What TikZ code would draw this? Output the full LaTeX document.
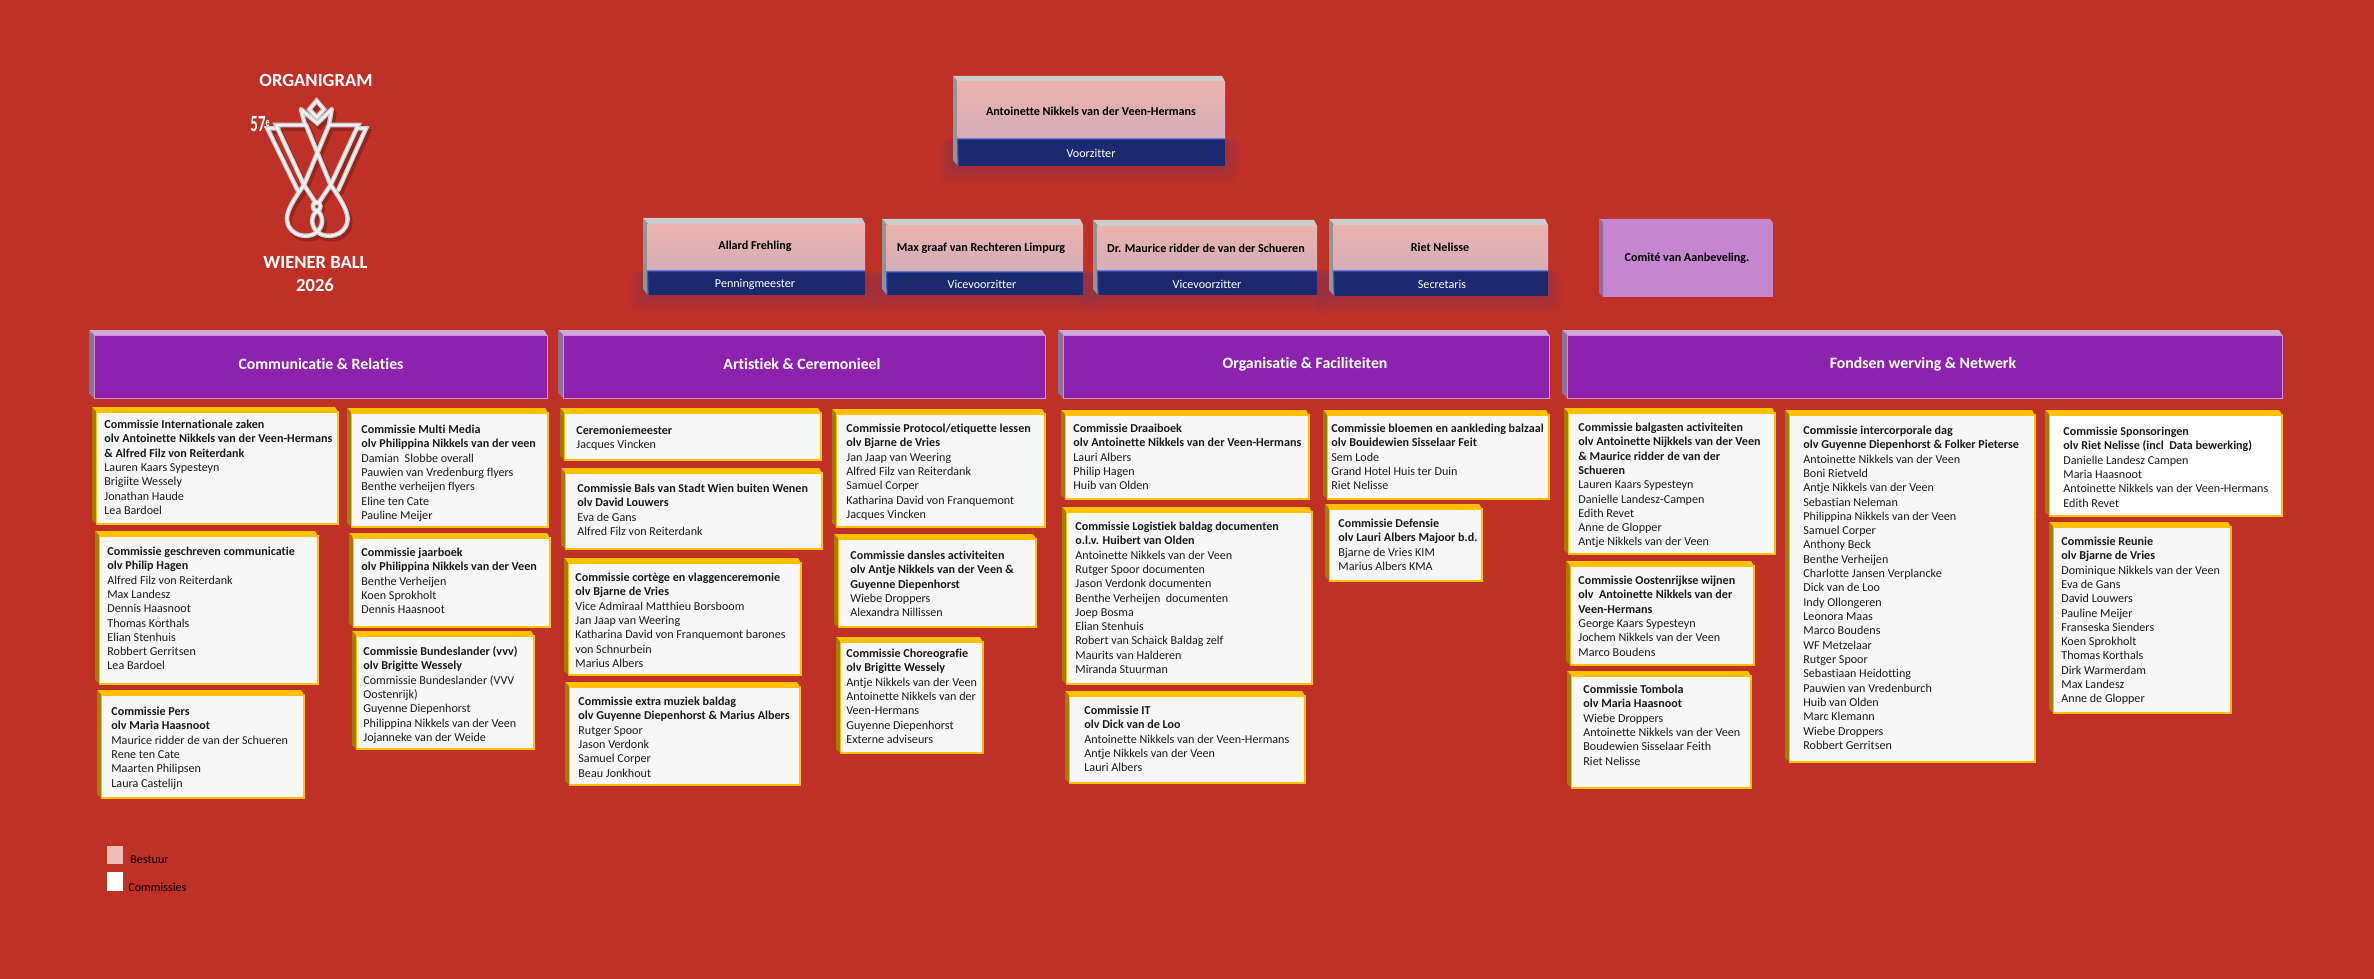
\documentclass[tikz,border=0pt]{standalone}
\usepackage{fontspec}
\setmainfont[Ligatures=NoCommon]{Carlito}
\definecolor{bgred}{HTML}{BF3027}
\definecolor{yeltop}{HTML}{FFC000}
\definecolor{yelleft}{HTML}{A67C00}
\definecolor{facegrey}{HTML}{F7F7F7}
\definecolor{purp}{HTML}{8C22AE}
\definecolor{purptop}{HTML}{D2A6D9}
\definecolor{purpleft}{HTML}{8F7196}
\definecolor{purpline}{HTML}{C896D8}
\definecolor{pinkA}{HTML}{EBB3AE}
\definecolor{pinkB}{HTML}{D4ACB9}
\definecolor{navy}{HTML}{1B2A6E}
\definecolor{navyedge}{HTML}{3A5BD0}
\definecolor{comite}{HTML}{C585D0}
\definecolor{comleft}{HTML}{8F6BA0}
\definecolor{inktext}{HTML}{1A1A1A}
\definecolor{shadowc}{HTML}{3A3A8A}
\tikzset{
  x=0.5pt,y=-0.5pt,
  comface/.style={fill=facegrey,draw=yeltop,line width=0.6pt},
  comwhite/.style={fill=white,draw=yeltop,line width=0.6pt},
  comtxt/.style={anchor=north west,inner sep=0pt,align=left,text=inktext,font=\fontsize{6.05}{7.16}\selectfont},
  headtxt/.style={inner sep=0pt,text=white,font=\fontsize{7.9}{9.5}\selectfont\bfseries},
  nametxt/.style={inner sep=0pt,text=black,font=\fontsize{6.05}{7}\selectfont\bfseries},
  roletxt/.style={inner sep=0pt,text=white,font=\fontsize{6.05}{7}\selectfont},
  logotxt/.style={inner sep=0pt,text=white,font=\fontsize{9.3}{11}\selectfont\bfseries},
  legtxt/.style={anchor=west,inner sep=0pt,text=black,font=\fontsize{6.05}{7}\selectfont},
}
% commission box: [face style]{name}{left}{top}{right}{bottom}{text x}{first line y}{text}
\newcommand\cbox[9][comface]{%
  \fill[yeltop] (#3,#4)--(#5-3,#4)--(#5,#4+5)--(#3+4.5,#4+5)--cycle;
  \fill[yelleft] (#3,#4)--(#3+4.5,#4+5)--(#3+4.5,#6)--(#3,#6-4)--cycle;
  \draw[#1] (#3+4.5,#4+5) rectangle (#5,#6);
  \node[comtxt] (#2) at (#7,#8-5) {\rule{0pt}{5pt}#9};
}
\newcommand\hd[1]{\textbf{#1}}
% section header: {name}{left}{right}{text x}{text}
\newcommand\sect[5]{%
  \fill[purptop] (#2,330)--(#3-3,330)--(#3,335)--(#2+5,335)--cycle;
  \fill[purpleft] (#2,330)--(#2+5,335)--(#2+5,398)--(#2,393)--cycle;
  \draw[fill=purp,draw=purpline,line width=0.5pt] (#2+5,335) rectangle (#3,398);
  \node[headtxt] (#1) at (#4,364) {#5};
}
% board box: {left}{top}{navy top}{right}{bottom}
\newcommand\board[5]{%
  \foreach \e in {3,6,...,18}{\fill[shadowc,opacity=0.035,rounded corners=4pt] (#1-\e*0.8,#3) rectangle (#4+\e*0.8,#5+\e);}
  \fill[black!20] (#1,#2)--(#4-3,#2)--(#4,#2+6)--(#1+5,#2+6)--cycle;
  \fill[black!42] (#1,#2)--(#1+5,#2+6)--(#1+5,#5)--(#1,#5-6)--cycle;
  \shade[top color=pinkA,middle color=pinkA,bottom color=pinkB] (#1+4,#2+6) rectangle (#4,#3);
  \fill[navy] (#1+5,#3) rectangle (#4,#5);
  \draw[navyedge,line width=0.6pt] (#1+5,#5)--(#1+4.5,#3)--(#4,#3);
}
\newcommand\logopath[1]{%
  \draw[#1,line join=miter,line cap=round]
    (260,32)--(282,58)--(260,82)--(238,58)--cycle
    (213,58)--(262,100)--(305,58)
    (213,58)--(225,105)--(138,105)--(222,285)--(258,340)
    (305,58)--(297,105)--(385,105)--(302,285)--(265,340)
    (145,115)--(112,115)--(205,305)
    (380,115)--(408,115)--(325,300)
    (228,105)--(302,285)
    (297,105)--(222,285)
    (222,285) .. controls (190,330) and (165,370) .. (172,395) .. controls (180,440) and (235,445) .. (255,430) .. controls (285,410) and (280,375) .. (262,362)
    (302,285) .. controls (334,330) and (358,370) .. (352,395) .. controls (344,440) and (290,445) .. (268,430) .. controls (238,410) and (243,375) .. (262,362)
    (260,336) .. controls (275,336) and (275,362) .. (260,362) .. controls (245,362) and (245,336) .. (260,336);
}
\begin{document}
\begin{tikzpicture}
\fill[bgred] (0,0) rectangle (2374,979);
\useasboundingbox (0,0) rectangle (2374,979);

% logo
\node[logotxt] (orga) at (316,80) {ORGANIGRAM};
\begin{scope}[shift={(230,90)},x=0.16667pt,y=-0.16667pt]
  \begin{scope}[shift={(7,10)}]
    \logopath{draw=black!70!bgred,opacity=0.3,line width=2.6pt}
  \end{scope}
  \logopath{draw=black!20,line width=2.3pt}
  \logopath{draw=white!95!black,line width=1pt}
\end{scope}
\node[inner sep=0pt,text=white,xscale=0.64,font=\fontsize{11.6}{13}\selectfont\bfseries] (cinq) at (260,124) {57\raisebox{2.6pt}{\fontsize{6.2}{7}\selectfont e}};
\node[logotxt] (wiener) at (315.5,262) {WIENER BALL};
\node[logotxt] (jaar) at (315,285) {2026};

% board
\board{953}{76}{139}{1225}{166}
\node[nametxt] (voorzn) at (1091,111) {Antoinette Nikkels van der Veen-Hermans};
\node[roletxt] (voorzr) at (1091,153) {Voorzitter};
\board{643}{218}{271}{865}{295}
\node[nametxt] (allardn) at (755,246) {Allard Frehling};
\node[roletxt] (allardr) at (755,284) {Penningmeester};
\board{882}{219}{272}{1083}{295}
\node[nametxt] (maxgn) at (981,248) {Max graaf van Rechteren Limpurg};
\node[roletxt] (maxgr) at (982,284) {Vicevoorzitter};
\board{1093}{220}{271}{1317}{295}
\node[nametxt] (maurn) at (1206,248) {Dr. Maurice ridder de van der Schueren};
\node[roletxt] (maurr) at (1207,284) {Vicevoorzitter};
\board{1329}{219}{271}{1548}{296}
\node[nametxt] (rietn) at (1440,247) {Riet Nelisse};
\node[roletxt] (rietr) at (1442,284) {Secretaris};
\fill[comite] (1599,219)--(1770,219)--(1773,223)--(1603,223)--cycle;
\fill[comleft] (1599,219)--(1603,223)--(1603,297)--(1599,293)--cycle;
\fill[comite] (1603,223) rectangle (1773,297);
\node[nametxt] (comiten) at (1687,258) {Comité van Aanbeveling.};

% sections
\sect{sa}{89}{547}{321}{Communicatie \& Relaties}
\sect{sb}{558}{1045}{802}{Artistiek \& Ceremonieel}
\sect{sc}{1058}{1549}{1305}{Organisatie \& Faciliteiten}
\sect{sd}{1562}{2282}{1923}{Fondsen werving \& Netwerk}

% column 1
\cbox{c1}{92}{407}{338}{524}{104}{423}{\hd{Commissie Internationale zaken}\\\hd{olv Antoinette Nikkels van der Veen-Hermans}\\\hd{\& Alfred Filz von Reiterdank}\\Lauren Kaars Sypesteyn\\Brigiite Wessely\\Jonathan Haude\\Lea Bardoel}
\cbox{c2}{95}{531}{318}{684}{107}{550}{\hd{Commissie geschreven communicatie}\\\hd{olv Philip Hagen}\\Alfred Filz von Reiterdank\\Max Landesz\\Dennis Haasnoot\\Thomas Korthals\\Elian Stenhuis\\Robbert Gerritsen\\Lea Bardoel}
\cbox{c3}{97}{690}{304}{798}{111}{710}{\hd{Commissie Pers}\\\hd{olv Maria Haasnoot}\\Maurice ridder de van der Schueren\\Rene ten Cate\\Maarten Philipsen\\Laura Castelijn}
% column 2
\cbox{c4}{347}{408}{548}{527}{361}{428}{\hd{Commissie Multi Media}\\\hd{olv Philippina Nikkels van der veen}\\Damian\ \ Slobbe overall\\Pauwien van Vredenburg flyers\\Benthe verheijen flyers\\Eline ten Cate\\Pauline Meijer}
\cbox{c5}{349}{533}{550}{627}{361}{551}{\hd{Commissie jaarboek}\\\hd{olv Philippina Nikkels van der Veen}\\Benthe Verheijen\\Koen Sprokholt\\Dennis Haasnoot}
\cbox{c6}{352}{631}{534}{749}{363}{650}{\hd{Commissie Bundeslander (vvv)}\\\hd{olv Brigitte Wessely}\\Commissie Bundeslander (VVV\\Oostenrijk)\\Guyenne Diepenhorst\\Philippina Nikkels van der Veen\\Jojanneke van der Weide}
% column 3
\cbox{c7}{560}{408}{821}{460}{576}{429}{\hd{Ceremoniemeester}\\Jacques Vincken}
\cbox{c8}{561}{468}{822}{549}{577}{487}{\hd{Commissie Bals van Stadt Wien buiten Wenen}\\\hd{olv David Louwers}\\Eva de Gans\\Alfred Filz von Reiterdank}
\cbox{c9}{564}{558}{801}{675}{575}{576}{\hd{Commissie cortège en vlaggenceremonie}\\\hd{olv Bjarne de Vries}\\Vice Admiraal Matthieu Borsboom\\Jan Jaap van Weering\\Katharina David von Franquemont barones\\von Schnurbein\\Marius Albers}
\cbox{c10}{565}{682}{800}{785}{578}{700}{\hd{Commissie extra muziek baldag}\\\hd{olv Guyenne Diepenhorst \& Marius Albers}\\Rutger Spoor\\Jason Verdonk\\Samuel Corper\\Beau Jonkhout}
% column 4
\cbox{c11}{832}{409}{1045}{527}{846}{427}{\hd{Commissie Protocol/etiquette lessen}\\\hd{olv Bjarne de Vries}\\Jan Jaap van Weering\\Alfred Filz van Reiterdank\\Samuel Corper\\Katharina David von Franquemont\\Jacques Vincken}
\cbox{c12}{834}{534}{1036}{627}{850}{554}{\hd{Commissie dansles activiteiten}\\\hd{olv Antje Nikkels van der Veen \&}\\\hd{Guyenne Diepenhorst}\\Wiebe Droppers\\Alexandra Nillissen}
\cbox{c13}{836}{637}{983}{753}{846}{652}{\hd{Commissie Choreografie}\\\hd{olv Brigitte Wessely}\\Antje Nikkels van der Veen\\Antoinette Nikkels van der\\Veen-Hermans\\Guyenne Diepenhorst\\Externe adviseurs}
% column 5
\cbox{c14}{1061}{410}{1309}{499}{1073}{427}{\hd{Commissie Draaiboek}\\\hd{olv Antoinette Nikkels van der Veen-Hermans}\\Lauri Albers\\Philip Hagen\\Huib van Olden}
\cbox{c15}{1062}{507}{1312}{684}{1075}{525}{\hd{Commissie Logistiek baldag documenten}\\\hd{o.l.v. Huibert van Olden}\\Antoinette Nikkels van der Veen\\Rutger Spoor documenten\\Jason Verdonk\ documenten\\Benthe Verheijen\ \ documenten\\Joep Bosma\\Elian Stenhuis\\Robert van Schaick Baldag zelf\\Maurits van Halderen\\Miranda Stuurman}
\cbox{c16}{1065}{691}{1305}{783}{1084}{709}{\hd{Commissie IT}\\\hd{olv Dick van de Loo}\\Antoinette Nikkels van der Veen-Hermans\\Antje Nikkels van der Veen\\Lauri Albers}
% column 6
\cbox{c17}{1323}{410}{1549}{499}{1331}{427}{\hd{Commissie bloemen en aankleding balzaal}\\\hd{olv Bouidewien Sisselaar Feit}\\Sem Lode\\Grand Hotel Huis ter Duin\\Riet Nelisse}
\cbox{c18}{1325}{504}{1482}{581}{1338}{522}{\hd{Commissie Defensie}\\\hd{olv Lauri Albers Majoor b.d.}\\Bjarne de Vries KIM\\Marius Albers KMA}
% column 7
\cbox{c19}{1564}{408}{1775}{554}{1578}{426}{\hd{Commissie balgasten activiteiten}\\\hd{olv Antoinette Nijkkels van der Veen}\\\hd{\& Maurice ridder de van der}\\\hd{Schueren}\\Lauren Kaars Sypesteyn\\Danielle Landesz-Campen\\Edith Revet\\Anne de Glopper\\Antje Nikkels van der Veen}
\cbox{c20}{1566}{561}{1754}{665}{1578}{579}{\hd{Commissie Oostenrijkse wijnen}\\\hd{olv\ \ Antoinette Nikkels van der}\\\hd{Veen-Hermans}\\George Kaars Sypesteyn\\Jochem Nikkels van der Veen\\Marco Boudens}
\cbox{c21}{1567}{671}{1751}{788}{1583}{688}{\hd{Commissie Tombola}\\\hd{olv Maria Haasnoot}\\Wiebe Droppers\\Antoinette Nikkels van der Veen\\Boudewien Sisselaar Feith\\Riet Nelisse}
% column 8
\cbox{c22}{1785}{410}{2035}{762}{1803}{429}{\hd{Commissie intercorporale dag}\\\hd{olv Guyenne Diepenhorst \& Folker Pieterse}\\Antoinette Nikkels van der Veen\\Boni Rietveld\\Antje Nikkels van der Veen\\Sebastian Neleman\\Philippina Nikkels van der Veen\\Samuel Corper\\Anthony Beck\\Benthe Verheijen\\Charlotte Jansen Verplancke\\Dick van de Loo\\Indy Ollongeren\\Leonora Maas\\Marco Boudens\\WF Metzelaar\\Rutger Spoor\\Sebastiaan Heidotting\\Pauwien van Vredenburch\\Huib van Olden\\Marc Klemann\\Wiebe Droppers\\Robbert Gerritsen}
% column 9
\cbox[comwhite]{c23}{2045}{410}{2282}{516}{2063}{430}{\hd{Commissie Sponsoringen}\\\hd{olv Riet Nelisse (incl\ \ Data bewerking)}\\Danielle Landesz Campen\\Maria Haasnoot\\Antoinette Nikkels van der Veen-Hermans\\Edith Revet}
\cbox{c24}{2049}{522}{2231}{713}{2061}{540}{\hd{Commissie Reunie}\\\hd{olv Bjarne de Vries}\\Dominique Nikkels van der Veen\\Eva de Gans\\David Louwers\\Pauline Meijer\\Franseska Sienders\\Koen Sprokholt\\Thomas Korthals\\Dirk Warmerdam\\Max Landesz\\Anne de Glopper}

% legend
\fill[pinkA!85!white] (107,846) rectangle (123,864);
\fill[white] (107,872) rectangle (123,891);
\node[legtxt] (legb) at (130,860) {Bestuur};
\node[legtxt] (legc) at (128,887) {Commissies};
\end{tikzpicture}
\end{document}
